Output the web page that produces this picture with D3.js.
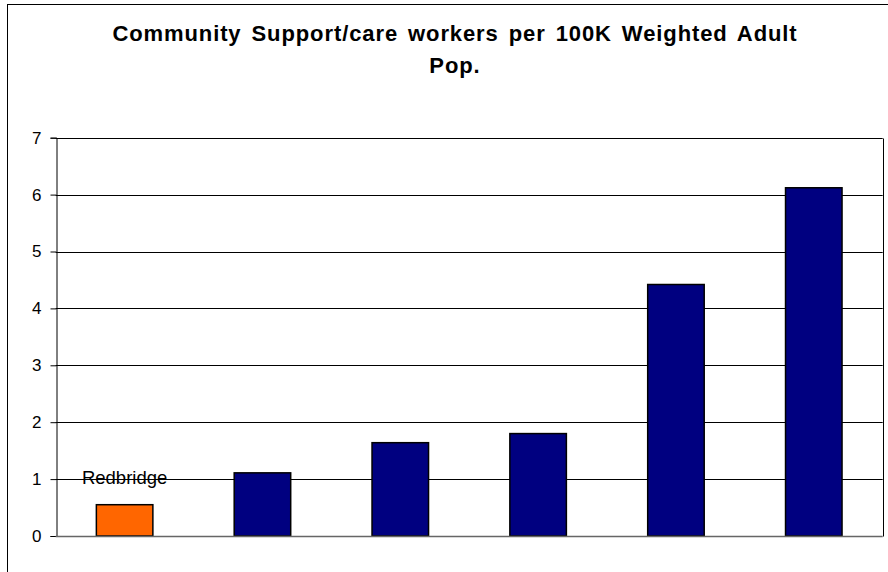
<!DOCTYPE html>
<html>
<head>
<meta charset="utf-8">
<script src="https://cdn.jsdelivr.net/npm/d3@7"></script>
<style>
  html, body { margin: 0; padding: 0; background: #fff; }
  svg { display: block; }
  text { font-family: "Liberation Sans", Arial, sans-serif; }
</style>
</head>
<body>
<svg id="chart" width="888" height="572"></svg>
<script>
// Community support/care workers per 100K weighted adult population
const categories = ["Redbridge", "Authority B", "Authority C", "Authority D", "Authority E", "Authority F"];
const values = [0.55, 1.11, 1.64, 1.80, 4.42, 6.12];
const highlight = "Redbridge";
const yTicks = [0, 1, 2, 3, 4, 5, 6, 7];
const titleLines = ["Community Support/care workers per 100K Weighted Adult", "Pop."];

const svg = d3.select("#chart");
const plot = { left: 55.7, right: 882.7, top: 137.7, bottom: 536 };

// outer chart frame
svg.append("rect")
  .attr("x", 7.5).attr("y", 4.5)
  .attr("width", 900).attr("height", 600)
  .attr("fill", "none").attr("stroke", "#000").attr("stroke-width", 1);

// title
svg.append("text")
  .attr("text-anchor", "middle")
  .attr("font-size", 22).attr("font-weight", "bold")
  .attr("letter-spacing", 0.9).attr("word-spacing", 3)
  .selectAll("tspan").data(titleLines).join("tspan")
  .attr("x", 455).attr("y", (d, i) => 41 + i * 32)
  .text(d => d);

const x = d3.scaleBand()
  .domain(categories)
  .range([plot.left, plot.right])
  .paddingInner(0.59).paddingOuter(0.295);

const y = d3.scaleLinear().domain([0, 7]).range([plot.bottom, plot.top]);

// horizontal gridlines
svg.append("g").selectAll("line").data(yTicks.filter(t => t > 0)).join("line")
  .attr("x1", plot.left).attr("x2", plot.right)
  .attr("y1", d => Math.round(y(d)) + 0.5).attr("y2", d => Math.round(y(d)) + 0.5)
  .attr("stroke", "#000").attr("stroke-width", 1);

// right border of plot area
svg.append("line")
  .attr("x1", Math.round(plot.right) + 0.5).attr("x2", Math.round(plot.right) + 0.5)
  .attr("y1", Math.round(plot.top) + 0.5).attr("y2", Math.round(plot.bottom) + 0.5)
  .attr("stroke", "#000").attr("stroke-width", 1);

// bars
svg.append("g").selectAll("rect").data(values).join("rect")
  .attr("x", (d, i) => x(categories[i]))
  .attr("y", d => y(d))
  .attr("width", x.bandwidth())
  .attr("height", d => y(0) - y(d))
  .attr("fill", (d, i) => categories[i] === highlight ? "#FF6600" : "#000080")
  .attr("stroke", "#000").attr("stroke-width", 1.5);

// value axis
const yAxis = d3.axisLeft(y).tickValues(yTicks).tickSize(6).tickPadding(9).tickFormat(d3.format("d"));
const gy = svg.append("g").attr("transform", `translate(${Math.round(plot.left) + 0.5},0)`).call(yAxis);
gy.select(".domain").attr("stroke", "#000");
gy.selectAll(".tick line").attr("stroke", "#000");
gy.selectAll(".tick text").attr("font-size", 17).attr("fill", "#000")
  .attr("font-family", "Liberation Sans, Arial, sans-serif");

// category axis baseline
svg.append("line")
  .attr("x1", plot.left).attr("x2", plot.right)
  .attr("y1", Math.round(y(0)) + 0.5).attr("y2", Math.round(y(0)) + 0.5)
  .attr("stroke", "#666").attr("stroke-width", 1.5);

// label over the highlighted bar
svg.append("text")
  .attr("x", x(highlight) + x.bandwidth() / 2)
  .attr("y", y(values[categories.indexOf(highlight)]) - 21)
  .attr("text-anchor", "middle")
  .attr("font-size", 18.5)
  .text(highlight);
</script>
</body>
</html>
